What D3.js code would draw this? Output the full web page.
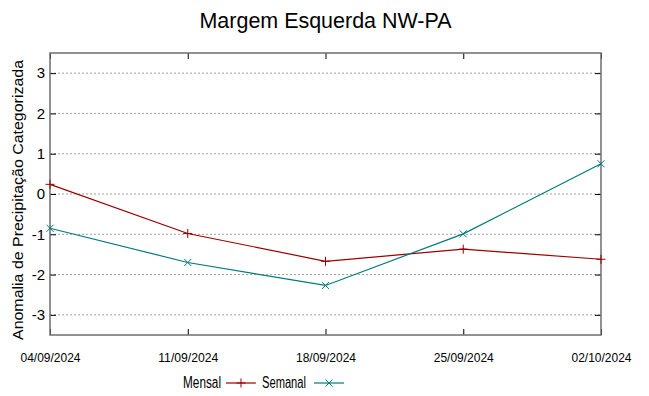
<!DOCTYPE html>
<html>
<head>
<meta charset="utf-8">
<script src="https://cdn.jsdelivr.net/npm/d3@7"></script>
<style>
  body { margin: 0; background: #fff; }
  text { font-family: "Liberation Sans", Arial, sans-serif; fill: #000; }
</style>
</head>
<body>
<svg id="chart" width="649" height="396"></svg>
<script>
// data
const dates = ["04/09/2024", "11/09/2024", "18/09/2024", "25/09/2024", "02/10/2024"];
const mensal = [0.24, -0.98, -1.67, -1.37, -1.62];
const semanal = [-0.85, -1.70, -2.27, -0.99, 0.75];
const yTicks = [-3, -2, -1, 0, 1, 2, 3];

const svg = d3.select("#chart");
const margin = { left: 50, right: 48, top: 53, bottom: 61 };
const width = +svg.attr("width");
const height = +svg.attr("height");

const x = d3.scalePoint()
  .domain(dates)
  .range([margin.left, width - margin.right]);
const y = d3.scaleLinear()
  .domain([-3.5, 3.5])
  .range([height - margin.bottom, margin.top]);

// grid lines (dotted gray)
svg.append("g")
  .selectAll("line")
  .data(yTicks)
  .enter()
  .append("line")
  .attr("x1", margin.left)
  .attr("x2", width - margin.right)
  .attr("y1", d => y(d))
  .attr("y2", d => y(d))
  .attr("stroke", "#a0a0a0")
  .attr("stroke-width", 1)
  .attr("stroke-dasharray", "2,2");

// axes with inner ticks
const tickLen = 6;
const yAxisL = svg.append("g")
  .attr("transform", `translate(${margin.left},0)`)
  .call(d3.axisLeft(y).tickValues(yTicks).tickFormat(d => String(d))
    .tickSizeInner(-tickLen).tickSizeOuter(0).tickPadding(5));
const yAxisR = svg.append("g")
  .attr("transform", `translate(${width - margin.right},0)`)
  .call(d3.axisRight(y).tickValues(yTicks).tickSizeInner(-tickLen).tickSizeOuter(0).tickFormat(""));
const xAxisB = svg.append("g")
  .attr("transform", `translate(0,${height - margin.bottom})`)
  .call(d3.axisBottom(x).tickSizeInner(-tickLen).tickSizeOuter(0).tickPadding(17));
const xAxisT = svg.append("g")
  .attr("transform", `translate(0,${margin.top})`)
  .call(d3.axisTop(x).tickSizeInner(-tickLen).tickSizeOuter(0).tickFormat(""));

[yAxisL, yAxisR, xAxisB, xAxisT].forEach(g => {
  g.select(".domain").remove();
  g.selectAll(".tick line").attr("stroke", "#000");
});
yAxisL.selectAll("text").attr("font-size", 15).attr("font-family", "Liberation Sans");
xAxisB.selectAll("text")
  .attr("font-size", 13.5)
  .attr("font-family", "Liberation Sans")
  .attr("textLength", 60)
  .attr("lengthAdjust", "spacingAndGlyphs");

// frame
svg.append("rect")
  .attr("x", margin.left)
  .attr("y", margin.top)
  .attr("width", width - margin.left - margin.right)
  .attr("height", height - margin.top - margin.bottom)
  .attr("fill", "none")
  .attr("stroke", "#6e6e6e")
  .attr("stroke-width", 1.5);

// series
const series = [
  { name: "Mensal", values: mensal, color: "#9b0000", marker: "plus" },
  { name: "Semanal", values: semanal, color: "#007b7b", marker: "cross" }
];

const line = d3.line()
  .x((d, i) => x(dates[i]))
  .y(d => y(d));

function marker(g, type, cx, cy, color) {
  const s = 4.5;
  if (type === "plus") {
    g.append("path").attr("d", `M${cx - s},${cy}H${cx + s}M${cx},${cy - s}V${cy + s}`)
      .attr("stroke", color).attr("stroke-width", 1).attr("fill", "none");
  } else {
    const t = 3.5;
    g.append("path").attr("d", `M${cx - t},${cy - t}L${cx + t},${cy + t}M${cx - t},${cy + t}L${cx + t},${cy - t}`)
      .attr("stroke", color).attr("stroke-width", 1).attr("fill", "none");
  }
}

series.forEach(s => {
  const g = svg.append("g");
  g.append("path")
    .datum(s.values)
    .attr("d", line)
    .attr("fill", "none")
    .attr("stroke", s.color)
    .attr("stroke-width", 1.2);
  s.values.forEach((v, i) => marker(g, s.marker, x(dates[i]), y(v), s.color));
});

// title
svg.append("text")
  .attr("x", (margin.left + width - margin.right) / 2)
  .attr("y", 28)
  .attr("text-anchor", "middle")
  .attr("font-size", 22)
  .attr("textLength", 252)
  .attr("lengthAdjust", "spacingAndGlyphs")
  .text("Margem Esquerda NW-PA");

// y label
svg.append("text")
  .attr("transform", `translate(23,${(margin.top + height - margin.bottom) / 2 + 6}) rotate(-90)`)
  .attr("text-anchor", "middle")
  .attr("font-size", 15.5)
  .attr("textLength", 280)
  .attr("lengthAdjust", "spacingAndGlyphs")
  .text("Anomalia de Precipitação Categorizada");

// legend
const legendY = 383;
const legend = svg.append("g");
legend.append("text").attr("x", 183).attr("y", legendY + 5)
  .attr("font-size", 16).attr("textLength", 38).attr("lengthAdjust", "spacingAndGlyphs").text("Mensal");
legend.append("line").attr("x1", 226).attr("x2", 256).attr("y1", legendY).attr("y2", legendY)
  .attr("stroke", series[0].color).attr("stroke-width", 1.2);
marker(legend, "plus", 241, legendY, series[0].color);
legend.append("text").attr("x", 262).attr("y", legendY + 5)
  .attr("font-size", 16).attr("textLength", 44).attr("lengthAdjust", "spacingAndGlyphs").text("Semanal");
legend.append("line").attr("x1", 314).attr("x2", 344).attr("y1", legendY).attr("y2", legendY)
  .attr("stroke", series[1].color).attr("stroke-width", 1.2);
marker(legend, "cross", 329, legendY, series[1].color);
</script>
</body>
</html>
